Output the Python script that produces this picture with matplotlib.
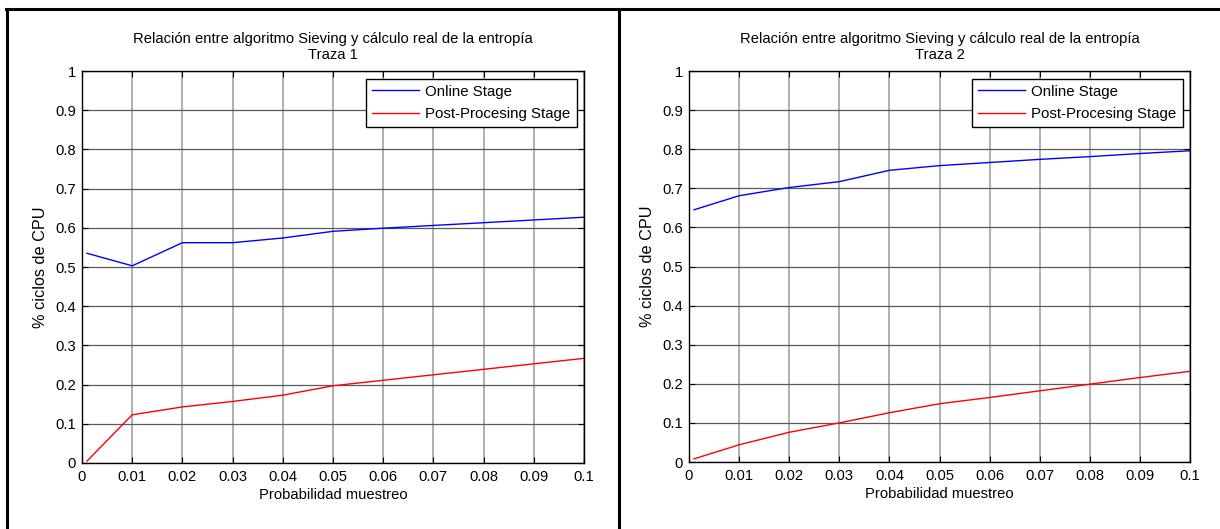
import matplotlib
matplotlib.use("Agg")
import matplotlib.pyplot as plt
from matplotlib.lines import Line2D

plt.rcParams["font.family"] = ["Liberation Sans", "DejaVu Sans"]

# sampling probabilities (first sample taken just above zero)
prob = [0.001, 0.01, 0.02, 0.03, 0.04, 0.05, 0.06, 0.07, 0.08, 0.09, 0.1]

# trace 1: share of CPU cycles
online_t1 = [0.535, 0.503, 0.562, 0.562, 0.574, 0.591, 0.599, 0.606, 0.613, 0.620, 0.627]
post_t1 = [0.005, 0.123, 0.143, 0.157, 0.173, 0.197, 0.211, 0.225, 0.239, 0.253, 0.267]

# trace 2: share of CPU cycles
online_t2 = [0.645, 0.681, 0.702, 0.717, 0.746, 0.758, 0.766, 0.774, 0.781, 0.789, 0.796]
post_t2 = [0.008, 0.044, 0.076, 0.100, 0.126, 0.149, 0.165, 0.182, 0.199, 0.216, 0.232]

traces = ["Traza 1", "Traza 2"]
x_ticks = [0, 0.01, 0.02, 0.03, 0.04, 0.05, 0.06, 0.07, 0.08, 0.09, 0.1]
x_ticklabels = ["0", "0.01", "0.02", "0.03", "0.04", "0.05", "0.06", "0.07", "0.08", "0.09", "0.1"]
y_ticks = [0, 0.1, 0.2, 0.3, 0.4, 0.5, 0.6, 0.7, 0.8, 0.9, 1]
y_ticklabels = ["0", "0.1", "0.2", "0.3", "0.4", "0.5", "0.6", "0.7", "0.8", "0.9", "1"]

W, H = 1220, 529
fig = plt.figure(figsize=(W / 100, H / 100), dpi=100)

# page frame: top rule, left rule and the column separator
frame_kw = dict(color="black", lw=2.2, transform=fig.transFigure, clip_on=False)
fig.add_artist(Line2D([6 / W, 1], [1 - 9 / H, 1 - 9 / H], **frame_kw))
fig.add_artist(Line2D([7 / W, 7 / W], [0, 1 - 9 / H], **frame_kw))
fig.add_artist(Line2D([619 / W, 619 / W], [0, 1 - 9 / H], **frame_kw))

# axes boxes in pixels: left, top, right, bottom
boxes = [(82, 71, 584, 463), (689, 71, 1190, 462)]
series = [(online_t1, post_t1), (online_t2, post_t2)]

for (l, t, r, b), (online, post), trace in zip(boxes, series, traces):
    ax = fig.add_axes([l / W, 1 - b / H, (r - l) / W, (b - t) / H])
    ax.plot(prob, online, color="#0000ff", lw=1.0, label="Online Stage")
    ax.plot(prob, post, color="#ff0000", lw=1.0, label="Post-Procesing Stage")
    ax.set_xlim(0, 0.1)
    ax.set_ylim(0, 1)
    ax.set_xticks(x_ticks)
    ax.set_xticklabels(x_ticklabels)
    ax.set_yticks(y_ticks)
    ax.set_yticklabels(y_ticklabels)
    ax.tick_params(direction="in", length=4, width=0.8, top=True, right=True,
                   labelsize=10.6)
    ax.tick_params(axis="x", pad=5)
    ax.tick_params(axis="y", pad=4.5)
    ax.xaxis.grid(True, color="#9a9a9a", lw=1.1)
    ax.yaxis.grid(True, color="#5a5a5a", lw=0.9)
    ax.set_axisbelow(True)
    for sp in ax.spines.values():
        sp.set_linewidth(1.0)
    ax.set_xlabel("Probabilidad muestreo", fontsize=10.6, labelpad=3)
    ax.set_ylabel("% ciclos de CPU", fontsize=11.7, labelpad=5)
    ax.set_title("Relación entre algoritmo Sieving y cálculo real de la entropía\n" + trace,
                 fontsize=10.6, pad=9, linespacing=1.15)
    leg = ax.legend(loc="upper right", fontsize=10.8, frameon=True, fancybox=False,
                    edgecolor="black", framealpha=1, borderaxespad=0.5,
                    handlelength=3.1, handletextpad=0.45, borderpad=0.4,
                    labelspacing=0.55)
    leg.get_frame().set_linewidth(1.0)

fig.savefig("out.png", dpi=100)
